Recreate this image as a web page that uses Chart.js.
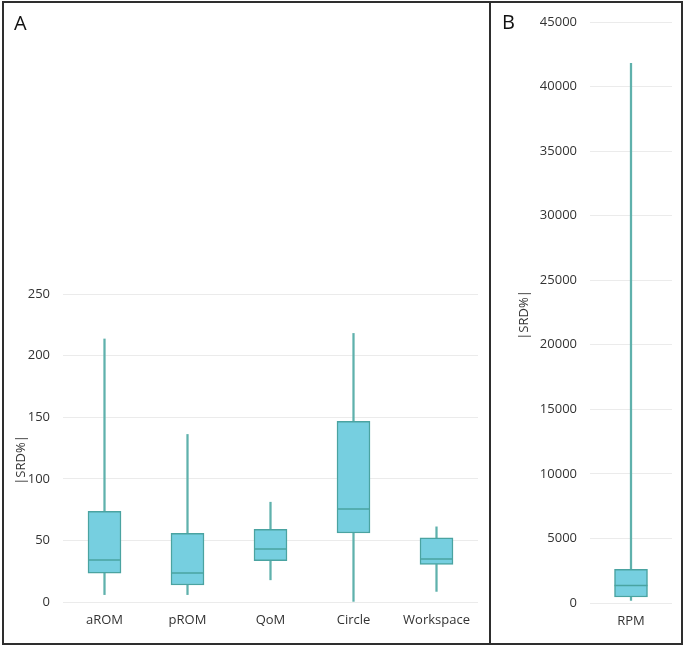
<!DOCTYPE html>
<html>
<head>
<meta charset="utf-8">
<script src="https://cdn.jsdelivr.net/npm/chart.js@4.4.1/dist/chart.umd.min.js"></script>
<style>
  html, body { margin:0; padding:0; background:#fff; }
  body { width:685px; height:648px; position:relative; overflow:hidden; font-family:"Open Sans", sans-serif; }
  #wa { position:absolute; left:0; top:0; width:490px; height:648px; }
  #wb { position:absolute; left:490px; top:0; width:193px; height:648px; }
  .frame { position:absolute; left:2px; top:1px; width:677px; height:640px; border:2px solid #2e2e2e; }
  .divider { position:absolute; left:489px; top:1px; width:2px; height:644px; background:#2e2e2e; }
  .panel { position:absolute; font-size:20px; color:#111; line-height:1; }
  .ytitle { position:absolute; font-size:13px; color:#333; white-space:nowrap; transform:translate(-50%,-50%) rotate(-90deg); }
</style>
</head>
<body>
<div id="wa"><canvas id="ca" width="490" height="648"></canvas></div>
<div id="wb"><canvas id="cb" width="193" height="648"></canvas></div>
<div class="frame"></div>
<div class="divider"></div>
<div class="panel" style="left:14px; top:13px;">A</div>
<div class="panel" style="left:502px; top:12px;">B</div>
<div class="ytitle" style="left:20px; top:460px;">|SRD%|</div>
<div class="ytitle" style="left:523px; top:315px;">|SRD%|</div>
<script>
// ---- Data ----
const categoriesA = ['aROM', 'pROM', 'QoM', 'Circle', 'Workspace'];
const minA    = [6, 6, 18, 0.5, 8.6];
const q1A     = [23.5, 13.8, 33.5, 56, 30.5];
const medianA = [34, 23.5, 43, 75.5, 35];
const q3A     = [73.5, 55.7, 59, 146.6, 52];
const maxA    = [213.5, 136, 81, 218, 61];
const ticksA  = [0, 50, 100, 150, 200, 250];

const categoriesB = ['RPM'];
const minB    = [200];
const q1B     = [465];
const medianB = [1360];
const q3B     = [2600];
const maxB    = [41800];
const ticksB  = [0, 5000, 10000, 15000, 20000, 25000, 30000, 35000, 40000, 45000];

const BOX_FILL = '#76CFE0';
const BOX_EDGE = '#4AA3A1';
const WHISKER  = '#5FB1AC';
const FONT = { family: '"Open Sans", sans-serif', size: 13 };
const TICK_COLOR = '#333';

function boxDatasets(mins, q1, med, q3, maxs) {
  return [
    { type: 'line', data: med, showLine: false, pointStyle: 'line', pointRadius: 16.5,
      pointHoverRadius: 16.5, borderColor: BOX_EDGE, pointBorderWidth: 1.5, borderWidth: 1.5, order: 0 },
    { type: 'bar', data: q1.map((v, i) => [v, q3[i]]), backgroundColor: BOX_FILL, borderColor: BOX_EDGE,
      borderWidth: 1.5, borderSkipped: false, barThickness: 33, grouped: false, order: 1 },
    { type: 'bar', data: q3.map((v, i) => [v, maxs[i]]), backgroundColor: WHISKER, borderWidth: 0,
      barThickness: 1.6, grouped: false, order: 2 },
    { type: 'bar', data: mins.map((v, i) => [v, q1[i]]), backgroundColor: WHISKER, borderWidth: 0,
      barThickness: 1.6, grouped: false, order: 2 }
  ];
}

function makeChart(id, labels, datasets, yMax, tickVals, pad, yWidth) {
  return new Chart(document.getElementById(id), {
    type: 'bar',
    data: { labels, datasets },
    options: {
      responsive: false,
      animation: false,
      events: [],
      layout: { padding: pad, autoPadding: false },
      plugins: { legend: { display: false }, tooltip: { enabled: false }, title: { display: false } },
      scales: {
        x: {
          grid: { display: false, drawTicks: false },
          border: { display: false },
          ticks: { font: FONT, color: TICK_COLOR, padding: 10, maxRotation: 0 },
          afterFit: s => { s.height = 40; }
        },
        y: {
          min: 0, max: yMax,
          afterBuildTicks: s => { s.ticks = tickVals.map(v => ({ value: v })); },
          grid: { color: '#EBEBEB', lineWidth: 1, drawTicks: false },
          border: { display: false },
          ticks: { font: FONT, color: TICK_COLOR, padding: 13, callback: v => String(v) },
          afterFit: s => { s.width = yWidth; }
        }
      }
    }
  });
}

makeChart('ca', categoriesA, boxDatasets(minA, q1A, medianA, q3A, maxA), 250, ticksA,
  { left: 0, right: 12, top: 294, bottom: 6 }, 63);
makeChart('cb', categoriesB, boxDatasets(minB, q1B, medianB, q3B, maxB), 45000, ticksB,
  { left: 0, right: 11, top: 22, bottom: 5 }, 100);
</script>
</body>
</html>
